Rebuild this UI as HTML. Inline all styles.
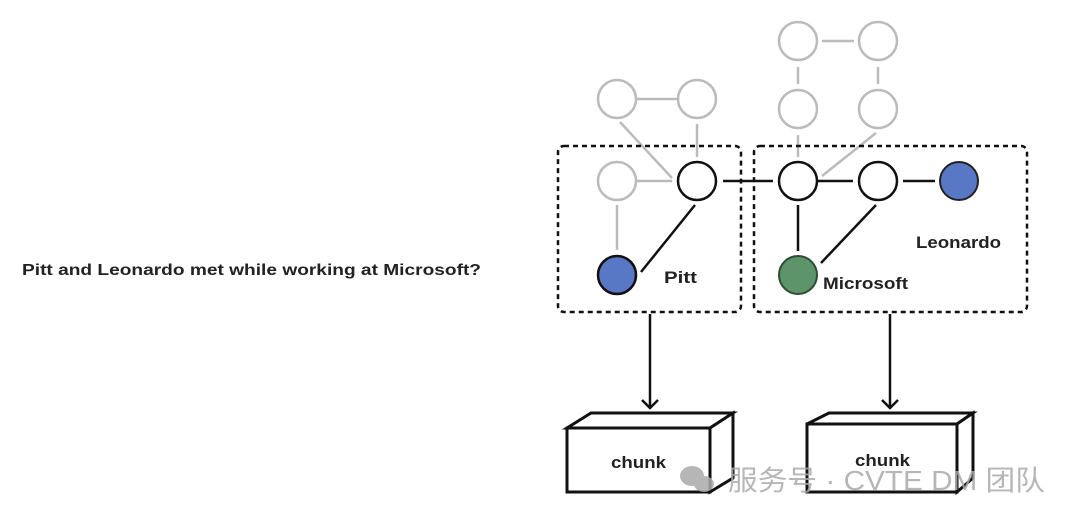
<!DOCTYPE html>
<html><head><style>
body{margin:0;width:1080px;height:523px;background:#fff;overflow:hidden}
text{font-family:"Liberation Sans","Noto Sans CJK SC",sans-serif;font-weight:bold;fill:#222}
</style></head><body>
<svg width="1080" height="523" viewBox="0 0 1080 523">
<text x="22" y="275" font-size="16" textLength="459" lengthAdjust="spacingAndGlyphs">Pitt and Leonardo  met while working at Microsoft?</text>
<g stroke="#bbb" stroke-width="2.5" fill="none">
<line x1="636" y1="99" x2="678" y2="99"/>
<line x1="620" y1="122" x2="672" y2="178"/>
<line x1="697" y1="124" x2="697" y2="157"/>
<line x1="636" y1="181" x2="672" y2="181"/>
<line x1="617" y1="205" x2="617" y2="250"/>
<line x1="822" y1="41" x2="854" y2="41"/>
<line x1="798" y1="67" x2="798" y2="84"/>
<line x1="878" y1="67" x2="878" y2="84"/>
<line x1="798" y1="135" x2="798" y2="157"/>
<line x1="876" y1="133" x2="822" y2="176"/>
<circle cx="617" cy="99" r="19"/><circle cx="697" cy="99" r="19"/>
<circle cx="798" cy="41" r="19"/><circle cx="878" cy="41" r="19"/>
<circle cx="798" cy="109" r="19"/><circle cx="878" cy="109" r="19"/>
<circle cx="617" cy="181" r="19"/>
</g>
<g stroke="#111" stroke-width="2.5" fill="none" stroke-dasharray="5,4">
<rect x="558" y="146" width="183" height="166" rx="6"/>
<rect x="754" y="146" width="273" height="166" rx="6"/>
</g>
<g stroke="#111" stroke-width="2.5" fill="none">
<line x1="723" y1="181" x2="773" y2="181"/>
<line x1="817" y1="181" x2="853" y2="181"/>
<line x1="903" y1="181" x2="935" y2="181"/>
<line x1="695" y1="205" x2="641" y2="272"/>
<line x1="798" y1="205" x2="798" y2="251"/>
<line x1="876" y1="205" x2="821" y2="263"/>
<circle cx="697" cy="181" r="19"/><circle cx="798" cy="181" r="19"/><circle cx="878" cy="181" r="19"/>
</g>
<circle cx="959" cy="181" r="19" fill="#5877c4" stroke="#222" stroke-width="2"/>
<circle cx="617" cy="275" r="19" fill="#5877c4" stroke="#111" stroke-width="2.5"/>
<circle cx="798" cy="275" r="19" fill="#5e946a" stroke="#2d4d33" stroke-width="2"/>
<text x="664" y="283" font-size="17" textLength="33" lengthAdjust="spacingAndGlyphs">Pitt</text>
<text x="823" y="289" font-size="17" textLength="85" lengthAdjust="spacingAndGlyphs">Microsoft</text>
<text x="916" y="248" font-size="17" textLength="85" lengthAdjust="spacingAndGlyphs">Leonardo</text>
<g stroke="#111" stroke-width="2.5" fill="none">
<line x1="650" y1="314" x2="650" y2="408"/><polyline points="642,400 650,408 658,400"/>
<line x1="890" y1="314" x2="890" y2="408"/><polyline points="882,400 890,408 898,400"/>
</g>
<g stroke="#111" stroke-width="3" fill="#fff" stroke-linejoin="miter">
<polygon points="567,428 591,413 733,413 710,428"/>
<polygon points="710,428 733,413 733,478 710,492"/>
<rect x="567" y="428" width="143" height="64"/>
<polygon points="807,424 829,413 973,413 957,424"/>
<polygon points="957,424 973,413 973,478 957,492"/>
<rect x="807" y="424" width="150" height="68"/>
</g>
<text x="611" y="468" font-size="17" textLength="55" lengthAdjust="spacingAndGlyphs">chunk</text>
<text x="855" y="466" font-size="17" textLength="55" lengthAdjust="spacingAndGlyphs">chunk</text>
<text x="728" y="490" font-size="28" textLength="317" lengthAdjust="spacingAndGlyphs" style="font-weight:normal;fill:#aaa;opacity:.85">服务号 · CVTE DM 团队</text>
<g fill="#aaa" opacity=".85"><ellipse cx="692" cy="476" rx="12" ry="10"/><ellipse cx="704" cy="484" rx="10" ry="8"/></g>
</svg>
</body></html>
